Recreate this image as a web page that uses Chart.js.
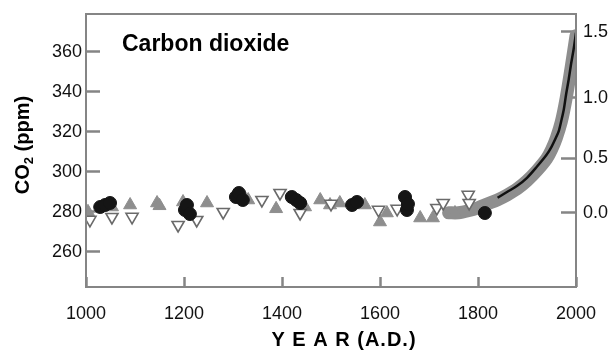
<!DOCTYPE html>
<html>
<head>
<meta charset="utf-8">
<script src="https://cdn.jsdelivr.net/npm/chart.js@4.4.0/dist/chart.umd.min.js"></script>
<style>
  html, body { margin: 0; padding: 0; background: #fff; }
  #wrap { width: 614px; height: 350px; }
</style>
</head>
<body>
<div id="wrap"><canvas id="co2Chart" width="614" height="350"></canvas></div>
<script>
// ice core / firn records (year A.D., ppm)
var circleYears = [1029, 1039, 1049, 1202, 1206, 1212, 1306, 1312, 1320, 1420, 1429, 1437, 1543, 1553, 1651, 1655, 1657, 1814];
var circlePpm   = [282.4, 283.4, 284.4, 280.9, 283.4, 278.9, 287.4, 289.4, 285.9, 287.4, 285.9, 284.4, 283.4, 284.9, 287.4, 280.9, 283.9, 279.4];

var upYears = [1004, 1053, 1090, 1145, 1150, 1198, 1247, 1324, 1331, 1388, 1447, 1478, 1498, 1518, 1569, 1600, 1614, 1682, 1708, 1753];
var upPpm   = [280, 282.4, 283.4, 284.4, 283, 284.9, 284.4, 287, 285.9, 281.5, 282.4, 285.9, 283.4, 284.4, 283.4, 274.9, 279.4, 276.9, 276.9, 279.4];

var downYears = [1008, 1053, 1094, 1188, 1226, 1280, 1359, 1396, 1437, 1500, 1597, 1635, 1716, 1729, 1780, 1782];
var downPpm   = [276, 277.4, 277.5, 273.4, 275.9, 279.9, 285.9, 289.4, 279.4, 284, 281, 281.5, 281.9, 284.4, 288.5, 284.4];

// grey band of overlapping recent records
var bandYears = [1740, 1760, 1780, 1800, 1820, 1840, 1860, 1880, 1900, 1920, 1940, 1950, 1960, 1970, 1980, 1990, 2000];
var bandPpm   = [279.5, 279.5, 280.5, 282, 284, 286, 288.5, 291.5, 295.5, 300.5, 306.5, 311, 317, 325, 337, 352, 368];

// black line (firn + atmospheric)
var lineYears = [1840, 1860, 1880, 1900, 1920, 1940, 1950, 1958, 1965, 1970, 1975, 1980, 1985, 1990, 1995, 2000];
var linePpm   = [287, 290, 293, 297, 302.5, 308.5, 312.5, 316.5, 320.5, 325.5, 331, 339, 346, 354, 361, 369.5];

var yearTicks = [1000, 1200, 1400, 1600, 1800, 2000];
var ppmTicks = [260, 280, 300, 320, 340, 360];
var forcingTicks = [0.0, 0.5, 1.0, 1.5];   // W/m2, right axis
var baseCO2 = 279.5;

function pts(xs, ys) {
    return xs.map(function (x, i) { return { x: x, y: ys[i] }; });
}
function ppmForForcing(f) {
    return baseCO2 * Math.exp(f / 5.35);
}
// fixed box sizes, and no extra label padding from the layout
function fixSize(w, h) {
    return function (scale) {
        if (w) scale.width = w;
        if (h) scale.height = h;
        scale.paddingTop = 0;
        scale.paddingBottom = 0;
        scale.paddingLeft = 0;
        scale.paddingRight = 0;
    };
}

Chart.defaults.font.family = '"Liberation Sans", Arial, sans-serif';
Chart.defaults.color = '#111';

var gray = '#8e8e8e';
var frameGray = '#858585';

var frameAndLabels = {
    id: 'frameAndLabels',
    afterDraw: function (chart) {
        var ctx = chart.ctx, a = chart.chartArea;
        ctx.save();
        ctx.strokeStyle = frameGray;
        ctx.lineWidth = 2;
        ctx.strokeRect(a.left, a.top, a.right - a.left, a.bottom - a.top);

        ctx.fillStyle = '#000';
        ctx.font = 'bold 23px "Liberation Sans", Arial, sans-serif';
        ctx.textAlign = 'left';
        ctx.textBaseline = 'alphabetic';
        ctx.fillText('Carbon dioxide', a.left + 36, a.top + 37);

        // x title
        ctx.font = 'bold 20px "Liberation Sans", Arial, sans-serif';
        ctx.textAlign = 'center';
        ctx.textBaseline = 'middle';
        ctx.letterSpacing = '1px';
        ctx.fillText('Y E A R (A.D.)', (a.left + a.right) / 2 + 13, 340);
        ctx.letterSpacing = '0px';

        // y title with subscript
        var big = 'bold 20px "Liberation Sans", Arial, sans-serif';
        var small = 'bold 13px "Liberation Sans", Arial, sans-serif';
        ctx.translate(22, 145);
        ctx.rotate(-Math.PI / 2);
        ctx.textAlign = 'left';
        ctx.textBaseline = 'alphabetic';
        ctx.font = big;
        var w1 = ctx.measureText('CO').width;
        var w3 = ctx.measureText(' (ppm)').width;
        ctx.font = small;
        var w2 = ctx.measureText('2').width;
        var x0 = -(w1 + w2 + w3) / 2;
        ctx.font = big;
        ctx.fillText('CO', x0, 7);
        ctx.font = small;
        ctx.fillText('2', x0 + w1, 11);
        ctx.font = big;
        ctx.fillText(' (ppm)', x0 + w1 + w2, 7);
        ctx.restore();
    }
};

var ctx = document.getElementById('co2Chart');
var co2Chart = new Chart(ctx, {
    type: 'scatter',
    data: {
        datasets: [{
                label: 'atmospheric',
                data: pts(lineYears, linePpm),
                showLine: true,
                borderColor: '#111',
                borderWidth: 2.5,
                pointRadius: 0,
                tension: 0.3
            }, {
                label: 'circles',
                data: pts(circleYears, circlePpm),
                pointStyle: 'circle',
                pointRadius: 6.5,
                backgroundColor: '#151515',
                borderColor: '#151515',
                borderWidth: 1
            }, {
                label: 'open triangles',
                data: pts(downYears, downPpm),
                pointStyle: 'triangle',
                rotation: 180,
                pointRadius: 7,
                backgroundColor: '#fff',
                borderColor: '#6a6a6a',
                borderWidth: 1.6
            }, {
                label: 'grey triangles',
                data: pts(upYears, upPpm),
                pointStyle: 'triangle',
                pointRadius: 7.5,
                backgroundColor: gray,
                borderColor: gray,
                borderWidth: 1
            }, {
                label: 'band',
                data: pts(bandYears, bandPpm),
                showLine: true,
                borderColor: gray,
                borderWidth: 13,
                borderCapStyle: 'round',
                borderJoinStyle: 'round',
                pointRadius: 0,
                tension: 0.3
            }]
    },
    options: {
        responsive: false,
        animation: false,
        layout: { padding: { top: 14, left: 0, right: 0, bottom: 0 } },
        plugins: {
            legend: { display: false },
            tooltip: { enabled: false }
        },
        scales: {
            x: {
                type: 'linear',
                position: 'bottom',
                min: 1000,
                max: 2000,
                afterBuildTicks: function (scale) {
                    scale.ticks = yearTicks.map(function (v) { return { value: v }; });
                },
                afterFit: fixSize(0, 63),
                border: { display: false },
                grid: { drawOnChartArea: false, tickLength: -10, tickWidth: 2.5, tickColor: frameGray },
                ticks: {
                    autoSkip: false,
                    maxRotation: 0,
                    padding: 26,
                    font: { size: 18 },
                    callback: function (v) { return String(v); }
                }
            },
            y: {
                type: 'linear',
                position: 'left',
                min: 242.4,
                max: 378.9,
                afterBuildTicks: function (scale) {
                    scale.ticks = ppmTicks.map(function (v) { return { value: v }; });
                },
                afterFit: fixSize(86, 0),
                border: { display: false },
                grid: { drawOnChartArea: false, tickLength: -14, tickWidth: 2.5, tickColor: frameGray },
                ticks: {
                    autoSkip: false,
                    padding: 18,
                    font: { size: 18 },
                    callback: function (v) { return String(v); }
                }
            },
            y1: {
                type: 'linear',
                position: 'right',
                min: 242.4,
                max: 378.9,
                afterBuildTicks: function (scale) {
                    scale.ticks = forcingTicks.map(function (f) { return { value: ppmForForcing(f) }; });
                },
                afterFit: fixSize(38, 0),
                border: { display: false },
                grid: { drawOnChartArea: false, tickLength: -15, tickWidth: 2.5, tickColor: frameGray },
                ticks: {
                    autoSkip: false,
                    padding: 22,
                    font: { size: 18 },
                    callback: function (v, i) { return forcingTicks[i].toFixed(1); }
                }
            }
        }
    },
    plugins: [frameAndLabels]
});
</script>
</body>
</html>
